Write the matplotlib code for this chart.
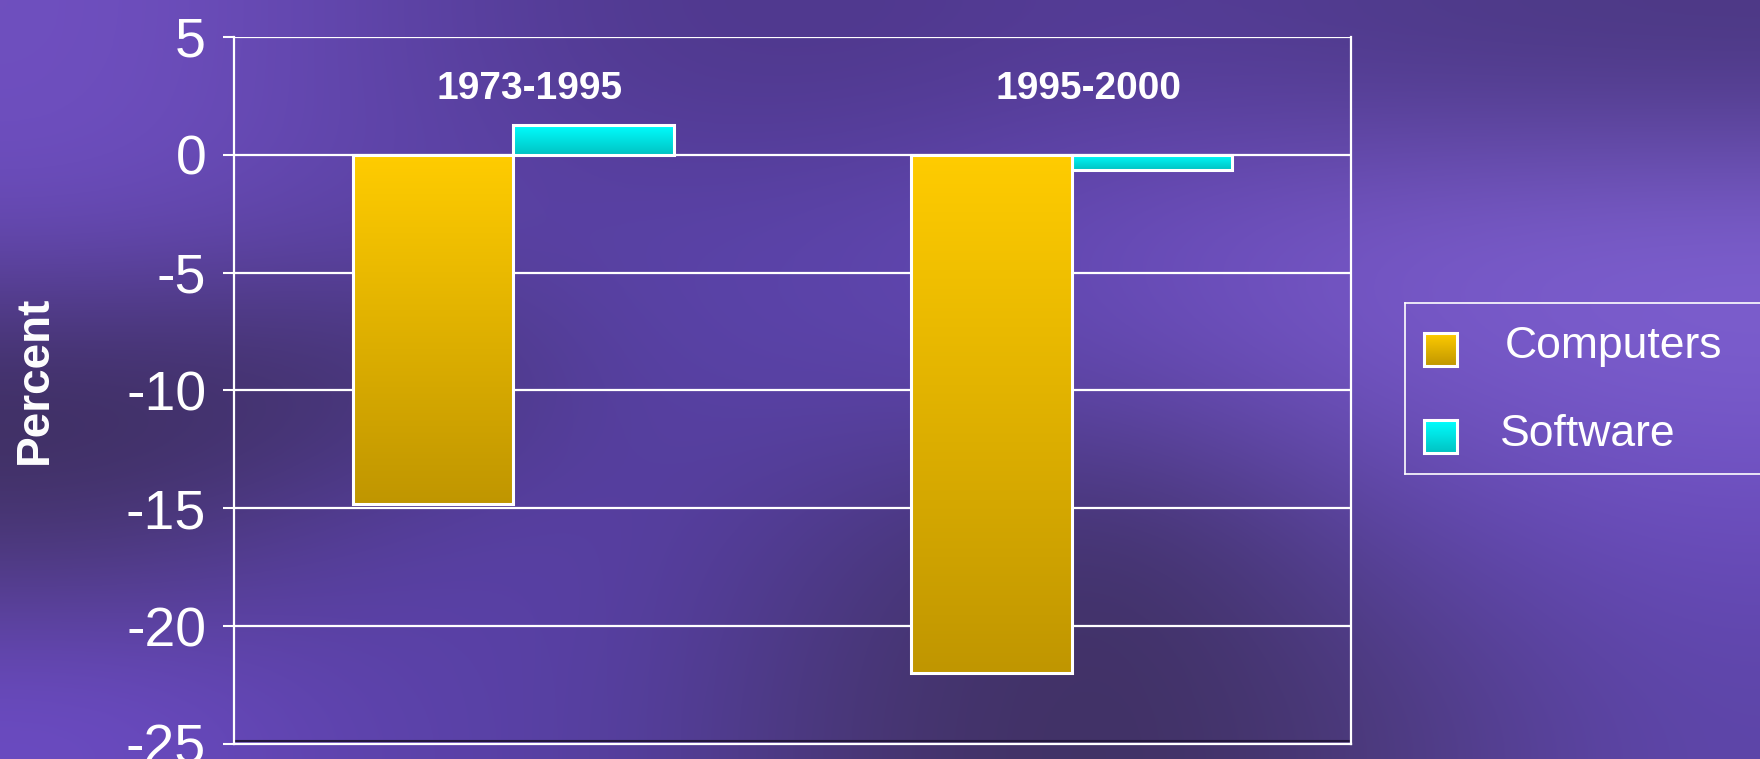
import numpy as np
import matplotlib.pyplot as plt
from matplotlib.colors import LinearSegmentedColormap, to_rgb
from matplotlib.transforms import offset_copy

periods = ["1973-1995", "1995-2000"]
computers = [-14.8, -22.0]
software = [1.25, -0.65]
series_names = ["Computers", "Software"]
yticks = [5, 0, -5, -10, -15, -20, -25]

plt.rcParams['font.family'] = ['Liberation Sans', 'DejaVu Sans']

W, H = 1760, 759
fig = plt.figure(figsize=(W / 100, H / 100), dpi=100)

# purple backdrop, coarse colour grid smoothed by bicubic interpolation
bg_hex = [
    ["#7050c0", "#5e44a8", "#50398f", "#4f388c", "#553c98", "#4e3a8a", "#4c3884"],
    ["#6a4cbc", "#5f45aa", "#5a42a8", "#5e46ae", "#6c4ebe", "#7a5aca", "#7e60d0"],
    ["#3a2c5a", "#3f3064", "#5842a6", "#5a42a6", "#6248ae", "#7254c2", "#7a5ccc"],
    ["#46356e", "#5840a2", "#5a40a8", "#4a3882", "#3f3064", "#5a44a2", "#6a4cbc"],
    ["#6c4cc4", "#5c42aa", "#5640a2", "#46356e", "#3e3060", "#4c3a7c", "#5e46aa"],
]
bg = np.array([[to_rgb(c) for c in row] for row in bg_hex])
bg_ax = fig.add_axes([0, 0, 1, 1], zorder=-10)
bg_ax.imshow(bg, aspect="auto", interpolation="bicubic", extent=[0, 1, 0, 1])
bg_ax.set_axis_off()

ax = fig.add_axes([234 / W, 1 - 744 / H, (1351 - 234) / W, (744 - 37) / H])
ax.patch.set_alpha(0)

cm_comp = LinearSegmentedColormap.from_list("comp", ["#c09600", "#ffcc00"])
cm_soft = LinearSegmentedColormap.from_list("soft", ["#00c2c2", "#00ffff"])

x = np.arange(len(periods))
w = 0.287
grad = np.linspace(0, 1, 256).reshape(-1, 1)


def gradient_bars(xpos, vals, cmap):
    bars = ax.bar(xpos, vals, width=w, color="none", edgecolor="white",
                  linewidth=2.2, zorder=4)
    for b in bars:
        x0, y0 = b.get_x(), b.get_y()
        x1, y1 = x0 + b.get_width(), y0 + b.get_height()
        lo, hi = min(y0, y1), max(y0, y1)
        im = ax.imshow(grad, cmap=cmap, aspect="auto", origin="lower",
                       extent=[x0, x1, lo, hi], zorder=3, interpolation="bilinear")
        im.set_clip_path(b)
    return bars


gradient_bars(x - w / 2, computers, cm_comp)
gradient_bars(x + w / 2, software, cm_soft)

for i, p in enumerate(periods):
    ax.text(i + 0.03, 2.8, p, ha="center", va="center", color="white",
            fontsize=28, fontweight="bold", zorder=5)

ax.set_xlim(-0.5, 1.5)
ax.set_ylim(-25, 5)
ax.set_xticks([])
ax.set_yticks(yticks)
ax.set_yticklabels([str(t) for t in yticks])
ax.tick_params(axis="y", colors="white", labelsize=40, length=8, width=1.5,
               pad=12, direction="out")
ax.yaxis.grid(True, color="white", linewidth=1.6, zorder=1)
ax.set_axisbelow(True)
for s in ["left", "right", "bottom"]:
    ax.spines[s].set_color("white")
    ax.spines[s].set_linewidth(1.6)
ax.spines["top"].set_visible(False)
ax.plot([0, 1], [0, 0], transform=offset_copy(ax.transAxes, fig, y=3, units="dots"),
        color="#24183e", lw=1.5, zorder=2, clip_on=False)

fig.text(35 / W, 1 - 380 / H, "Percent", rotation=90, ha="center", va="center",
         color="white", fontsize=33, fontweight="bold")

# legend box
lg = fig.add_axes([1405 / W, 1 - 474 / H, 380 / W, 171 / H])
lg.patch.set_alpha(0)
lg.set_xlim(0, 380)
lg.set_ylim(0, 171)
lg.set_xticks([])
lg.set_yticks([])
for s in lg.spines.values():
    s.set_color("white")
    s.set_linewidth(1.2)
for name, cmap, ybot, xtxt, ybase in [
    (series_names[0], cm_comp, 108, 100, 116),
    (series_names[1], cm_soft, 21, 95, 28),
]:
    lg.imshow(grad, cmap=cmap, aspect="auto", origin="lower",
              extent=[19, 52, ybot, ybot + 33], zorder=2)
    lg.add_patch(plt.Rectangle((19, ybot), 33, 33, fill=False, edgecolor="white",
                               linewidth=2.2, zorder=3))
    lg.text(xtxt, ybase, name, color="white", fontsize=32, ha="left",
            va="baseline")

fig.savefig("out.png", dpi=100)
